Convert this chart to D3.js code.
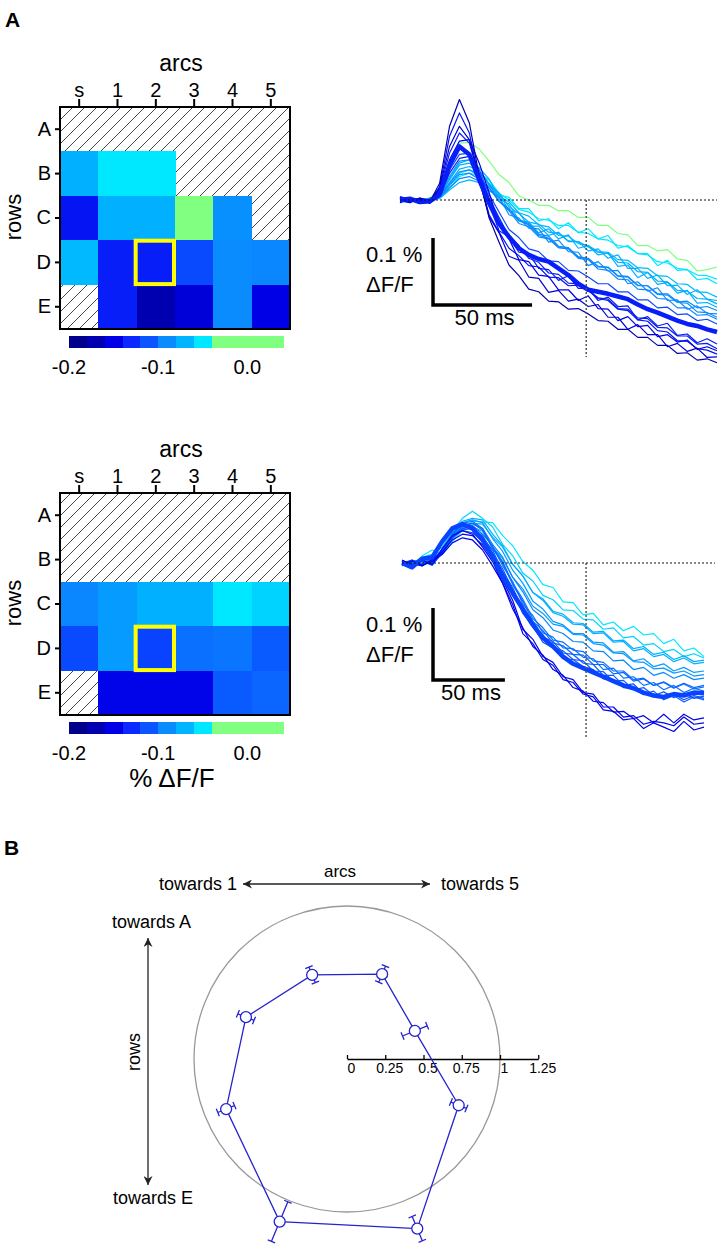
<!DOCTYPE html>
<html>
<head>
<meta charset="utf-8">
<script src="https://cdn.jsdelivr.net/npm/d3@7"></script>
<style>
  body { margin: 0; background: #fff; }
  svg { display: block; font-family: "Liberation Sans", Arial, sans-serif; }
</style>
</head>
<body>
<svg class="mainSvg"></svg>
<script>
(function () {
  // ===========================================================================
  //     data area
  // ===========================================================================
  const arcs = ['s', '1', '2', '3', '4', '5'];
  const rows = ['A', 'B', 'C', 'D', 'E'];

  // % dF/F per cell, null = not recorded (hatched)
  const mapTop = [
    [null, null, null, null, null, null],
    [-0.072, -0.05, -0.05, null, null, null],
    [-0.14, -0.072, -0.072, -0.03, -0.088, null],
    [-0.068, -0.135, -0.135, -0.115, -0.09, -0.092],
    [null, -0.135, -0.17, -0.155, -0.09, -0.15],
  ];
  const mapBottom = [
    [null, null, null, null, null, null],
    [null, null, null, null, null, null],
    [-0.092, -0.082, -0.072, -0.072, -0.05, -0.058],
    [-0.115, -0.082, -0.118, -0.1, -0.098, -0.108],
    [null, -0.148, -0.148, -0.148, -0.108, -0.104],
  ];
  const highlightCell = 'D2';

  const cbEdges = [-0.2, -0.18, -0.16, -0.14, -0.12, -0.10, -0.08, -0.06, -0.04, 0.04];
  const cbTicks = [-0.2, -0.1, 0.0];

  // traces, unit = 0.001 % dF/F, keyed by cell
  const tTop = [0, 5, 10, 15, 20, 25, 30, 35, 40, 45, 50, 55, 60, 65, 70, 75, 80,
    85, 90, 95, 100, 105, 110, 115, 120, 125, 130, 135, 140, 145, 150, 155, 160];
  const tracesTop = {
    Bs: [-3, 2, -4, 1, 6, 30, 52, 55, 42, 22, 10, -16, -19, -39, -39, -53, -48, -62, -62, -76, -73, -87, -82, -102, -102, -117, -112, -128, -127, -141, -134, -148, -150],
    B1: [2, -3, 0, -2, 4, 22, 40, 45, 40, 30, 10, 0, -14, -18, -28, -30, -38, -38, -48, -50, -58, -60, -68, -70, -80, -82, -92, -94, -102, -104, -112, -113, -118],
    B2: [-2, 1, -3, 2, 3, 18, 35, 40, 36, 30, 7, 4, -13, -13, -31, -28, -43, -34, -49, -43, -58, -53, -72, -68, -80, -80, -98, -90, -105, -104, -119, -117, -125],
    Cs: [4, -2, 3, -5, 20, 95, 130, 100, 30, -22, -48, -72, -83, -98, -100, -115, -116, -128, -127, -135, -147, -150, -163, -165, -179, -181, -195, -197, -210, -211, -222, -224, -230],
    C1: [0, 3, -2, -4, 5, 32, 55, 60, 48, 31, 2, -6, -30, -33, -49, -43, -58, -52, -72, -68, -82, -79, -99, -97, -116, -108, -126, -123, -139, -135, -154, -153, -160],
    C2: [-4, 0, 2, -1, 6, 26, 46, 50, 44, 24, 10, -10, -20, -33, -36, -48, -50, -61, -62, -70, -78, -80, -93, -94, -107, -108, -121, -122, -135, -136, -147, -148, -155],
    C3: [-2, 2, -3, 3, 15, 55, 85, 86, 76, 58, 38, 26, 6, 0, -8, -8, -16, -16, -26, -26, -38, -38, -50, -52, -68, -68, -76, -74, -88, -90, -106, -104, -100],
    C4: [3, -1, -3, 2, 8, 35, 58, 60, 43, 24, -2, -16, -35, -40, -55, -58, -71, -72, -85, -88, -99, -100, -113, -114, -127, -128, -141, -142, -153, -154, -167, -168, -175],
    Ds: [-1, -4, 2, 0, 2, 15, 26, 30, 26, 22, 6, -3, -19, -24, -37, -40, -53, -54, -65, -68, -77, -78, -89, -90, -101, -102, -113, -114, -125, -126, -137, -138, -145],
    D1: [5, 1, -4, -2, 15, 70, 100, 85, 35, -6, -46, -55, -78, -80, -102, -104, -120, -113, -132, -132, -150, -145, -159, -158, -179, -174, -188, -184, -202, -200, -213, -207, -215],
    D2: [0, 2, -3, -2, 8, 52, 80, 68, 30, -5, -35, -55, -72, -82, -88, -92, -102, -112, -125, -134, -137, -140, -144, -148, -156, -163, -168, -174, -180, -185, -188, -193, -197],
    D3: [-3, 2, 0, -4, 10, 45, 68, 70, 45, 8, -18, -44, -56, -73, -77, -91, -92, -105, -106, -115, -125, -125, -137, -137, -149, -149, -161, -160, -171, -170, -180, -178, -185],
    D4: [2, -2, -1, 3, 5, 25, 42, 45, 36, 14, 5, -22, -27, -42, -43, -63, -60, -77, -78, -98, -92, -106, -105, -125, -122, -136, -131, -150, -149, -163, -158, -169, -170],
    D5: [-2, 3, -3, 1, 4, 18, 32, 35, 28, 18, -2, -13, -31, -37, -53, -57, -71, -73, -87, -89, -103, -105, -118, -119, -133, -134, -147, -148, -161, -161, -172, -171, -178],
    E1: [1, -3, 2, -5, 8, 40, 62, 65, 40, 3, -26, -54, -68, -87, -93, -109, -111, -124, -125, -135, -146, -148, -162, -163, -176, -177, -190, -191, -203, -203, -215, -214, -222],
    E2: [3, 0, -5, -3, 25, 110, 150, 115, 35, -27, -63, -97, -113, -133, -137, -151, -152, -163, -162, -170, -180, -181, -193, -193, -205, -205, -217, -217, -229, -228, -239, -237, -243],
    E3: [-4, 2, 1, -2, 18, 80, 110, 90, 30, -25, -49, -84, -90, -115, -117, -138, -135, -151, -148, -159, -156, -175, -175, -193, -186, -201, -201, -219, -214, -226, -221, -235, -234],
    E4: [4, -1, -2, 2, 5, 22, 38, 40, 31, 19, -2, -13, -31, -35, -51, -54, -69, -71, -85, -87, -100, -101, -114, -115, -128, -128, -140, -140, -152, -151, -161, -159, -165],
    E5: [-1, -4, 3, 0, 12, 60, 88, 90, 55, 11, -38, -58, -89, -92, -112, -114, -134, -134, -150, -143, -162, -163, -180, -174, -189, -187, -204, -201, -212, -209, -223, -219, -225],
  };

  const tBottom = [0, 7, 14, 21, 28, 35, 42, 49, 56, 63, 70, 77, 84, 91, 98, 105,
    112, 119, 126, 133, 140, 147, 154, 161, 168, 175, 182, 189, 196, 203, 210];
  const tracesBottom = {
    Cs: [2, -2, 4, 0, 16, 38, 52, 55, 48, 26, 8, -20, -40, -65, -76, -93, -98, -109, -110, -122, -123, -136, -135, -148, -145, -156, -152, -160, -155, -162, -160],
    C1: [-2, 4, -1, 5, 18, 40, 56, 60, 56, 34, 16, -10, -28, -53, -64, -81, -86, -98, -98, -110, -111, -124, -123, -136, -133, -144, -140, -150, -145, -152, -150],
    C2: [1, -3, 6, 2, 20, 42, 58, 62, 60, 40, 24, -2, -18, -41, -52, -69, -74, -85, -86, -98, -97, -110, -109, -122, -119, -130, -127, -137, -132, -140, -138],
    C3: [-3, 0, 3, -2, 14, 36, 50, 55, 54, 36, 22, -2, -18, -41, -50, -67, -71, -83, -84, -96, -95, -108, -107, -119, -116, -127, -124, -134, -129, -137, -135],
    C4: [2, -4, 10, 18, 12, 30, 45, 58, 57, 56, 38, 24, 2, -10, -30, -34, -54, -55, -72, -70, -86, -82, -94, -88, -100, -98, -112, -106, -122, -118, -130],
    C5: [3, -2, 8, 12, 22, 44, 62, 72, 62, 50, 26, 10, -14, -25, -45, -51, -65, -66, -78, -79, -92, -90, -104, -102, -114, -112, -123, -120, -130, -126, -132],
    Ds: [0, 4, -3, 3, 18, 36, 45, 42, 30, 12, -16, -38, -70, -88, -110, -118, -133, -134, -144, -148, -161, -162, -173, -174, -183, -182, -188, -182, -190, -184, -188],
    D1: [-3, 2, 5, -2, 14, 34, 48, 50, 44, 22, 6, -20, -36, -60, -70, -85, -88, -99, -100, -112, -114, -125, -126, -137, -138, -147, -146, -153, -150, -157, -155],
    D2: [0, -6, 6, 8, 30, 48, 54, 48, 32, 8, -18, -42, -64, -86, -104, -116, -130, -140, -146, -152, -158, -164, -170, -174, -180, -184, -186, -182, -184, -180, -181],
    D3: [2, -3, 0, 6, 16, 40, 55, 58, 48, 22, 2, -28, -50, -77, -90, -107, -110, -121, -123, -136, -138, -150, -150, -162, -160, -170, -166, -174, -168, -175, -172],
    D4: [-4, 1, -2, 3, 12, 36, 50, 52, 40, 24, -4, -26, -57, -73, -97, -103, -118, -119, -131, -133, -148, -146, -160, -158, -170, -166, -176, -170, -180, -174, -178],
    D5: [1, -2, 3, -3, 14, 34, 46, 48, 38, 14, -8, -38, -60, -87, -100, -117, -122, -134, -136, -150, -151, -164, -163, -176, -173, -184, -179, -187, -181, -188, -185],
    E1: [-2, 3, -4, 5, 15, 32, 40, 38, 25, 6, -24, -52, -92, -106, -130, -138, -158, -162, -180, -182, -200, -200, -214, -212, -224, -220, -222, -226, -214, -224, -222],
    E2: [3, -5, 4, -2, 20, 38, 45, 40, 22, 2, -28, -58, -98, -112, -134, -142, -162, -166, -182, -186, -204, -206, -218, -216, -230, -222, -228, -234, -220, -232, -228],
    E3: [4, -2, -3, 2, 12, 28, 35, 32, 18, -4, -28, -64, -90, -116, -128, -148, -156, -173, -178, -192, -194, -207, -206, -216, -212, -222, -210, -222, -210, -218, -215],
    E4: [3, -1, -4, 4, 15, 35, 48, 50, 36, 18, -12, -34, -65, -81, -103, -109, -125, -127, -139, -141, -156, -156, -170, -168, -182, -178, -190, -184, -193, -186, -190],
    E5: [-1, 3, 2, -3, 17, 40, 53, 55, 46, 20, 0, -30, -53, -81, -94, -111, -115, -127, -128, -141, -141, -154, -152, -164, -161, -170, -165, -173, -167, -173, -170],
  };
  const markTop = 94; // ms, dotted line
  const markBottom = 128;
  const barMs = 50;
  const barPct = 0.1;

  // panel B: direction (deg), normalised amplitude, error
  const dirAngles = [22.5, 67.5, 112.5, 157.5, 202.5, 247.5, 292.5, 337.5];
  const dirAmp = [0.48, 0.60, 0.595, 0.715, 0.855, 1.15, 1.20, 0.79];
  const dirErr = [0.087, 0.057, 0.055, 0.057, 0.059, 0.14, 0.086, 0.055];
  const radTicks = [0, 0.25, 0.5, 0.75, 1, 1.25];

  // jet-like palette of the colour bar
  const jetStops = [-0.19, -0.17, -0.15, -0.13, -0.11, -0.09, -0.07, -0.05, -0.03];
  const jetColors = ['#00008a', '#0000b0', '#0000e6', '#0a28ff', '#0a55ff', '#0a8cff', '#00b4ff', '#00e8ff', '#80ff80'];

  // ===========================================================================
  //      procedure
  // ===========================================================================
  const W = 720;
  const H = 1249;
  const font = '"Liberation Sans", Arial, sans-serif';
  const color = d3.scaleLinear().domain(jetStops).range(jetColors).clamp(true);

  const svg = d3.select('.mainSvg')
    .attr('width', W)
    .attr('height', H);
  const defs = svg.append('defs');

  const pat = defs.append('pattern')
    .attr('id', 'hatch')
    .attr('patternUnits', 'userSpaceOnUse')
    .attr('width', 12)
    .attr('height', 12);
  pat.append('rect').attr('width', 12).attr('height', 12).attr('fill', '#fff');
  pat.append('path')
    .attr('d', 'M-3,3 L3,-3 M0,12 L12,0 M9,15 L15,9')
    .attr('stroke', '#333')
    .attr('stroke-width', 0.9);

  defs.append('marker')
    .attr('id', 'arrowHead')
    .attr('viewBox', '0 0 10 10')
    .attr('refX', 10)
    .attr('refY', 5)
    .attr('markerWidth', 11)
    .attr('markerHeight', 9)
    .attr('markerUnits', 'userSpaceOnUse')
    .attr('orient', 'auto-start-reverse')
    .append('path')
    .attr('d', 'M0,0 L10,5 L0,10 L3,5 Z')
    .attr('fill', '#222');

  function cellValue(map, key) {
    return map[rows.indexOf(key[0])][arcs.indexOf(key.slice(1))];
  }

  // panel letter A
  svg.append('text')
    .attr('x', 5).attr('y', 27)
    .attr('font-size', 21).attr('font-weight', 'bold')
    .text('A');

  // ===========================================================================
  //      draw heatmaps
  // ===========================================================================
  function drawMap(map, y0, showUnits) {
    const g = svg.append('g');
    const x = d3.scaleBand().domain(arcs).range([60, 290]);
    const y = d3.scaleBand().domain(rows).range([y0, y0 + 222]);

    g.append('rect')
      .attr('x', 60).attr('y', y0)
      .attr('width', 230).attr('height', 222)
      .attr('fill', 'url(#hatch)');

    const cells = [];
    map.forEach(function (r, i) {
      r.forEach(function (v, j) {
        if (v !== null) cells.push({ row: rows[i], arc: arcs[j], v });
      });
    });
    g.selectAll('rect.cell')
      .data(cells)
      .enter()
      .append('rect')
      .attr('class', 'cell')
      .attr('x', d => x(d.arc))
      .attr('y', d => y(d.row))
      .attr('width', x.bandwidth() + 0.5)
      .attr('height', y.bandwidth() + 0.5)
      .attr('fill', d => color(d.v))
      .attr('shape-rendering', 'crispEdges');

    g.append('rect')
      .attr('x', x(highlightCell.slice(1)) - 1)
      .attr('y', y(highlightCell[0]) + 0.5)
      .attr('width', x.bandwidth())
      .attr('height', y.bandwidth() - 1)
      .attr('fill', 'none')
      .attr('stroke', '#ffff00')
      .attr('stroke-width', 4);

    g.append('rect')
      .attr('x', 60).attr('y', y0)
      .attr('width', 230).attr('height', 222)
      .attr('fill', 'none')
      .attr('stroke', '#000')
      .attr('stroke-width', 2);

    const ax = g.append('g')
      .attr('transform', `translate(0,${y0})`)
      .call(d3.axisTop(x).tickSizeInner(8).tickSizeOuter(0).tickPadding(2));
    const ay = g.append('g')
      .attr('transform', 'translate(60,0)')
      .call(d3.axisLeft(y).tickSizeInner(5).tickSizeOuter(0).tickPadding(4));
    [ax, ay].forEach(function (a) {
      a.attr('font-family', font).attr('font-size', 20);
      a.select('.domain').remove();
      a.selectAll('line').attr('stroke', '#000').attr('stroke-width', 2);
      a.selectAll('text').attr('fill', '#000');
    });

    g.append('text')
      .attr('x', 181).attr('y', y0 - 36)
      .attr('text-anchor', 'middle')
      .attr('font-size', 23)
      .text('arcs');
    g.append('text')
      .attr('transform', `translate(21,${y0 + 110}) rotate(-90)`)
      .attr('text-anchor', 'middle')
      .attr('font-size', 22)
      .text('rows');

    // colour bar
    const cb = d3.scaleLinear().domain([-0.2, 0.04]).range([69, 283]);
    const cbTop = y0 + 222 + 7;
    const bins = cbEdges.slice(0, -1).map((e, i) => ({ lo: e, hi: cbEdges[i + 1] }));
    g.selectAll('rect.bin')
      .data(bins)
      .enter()
      .append('rect')
      .attr('class', 'bin')
      .attr('x', d => cb(d.lo))
      .attr('y', cbTop)
      .attr('width', d => cb(d.hi) - cb(d.lo) + 0.5)
      .attr('height', 12)
      .attr('fill', d => color((d.lo + d.hi) / 2))
      .attr('shape-rendering', 'crispEdges');
    g.selectAll('text.cbt')
      .data(cbTicks)
      .enter()
      .append('text')
      .attr('class', 'cbt')
      .attr('x', d => cb(d))
      .attr('y', cbTop + 38)
      .attr('text-anchor', 'middle')
      .attr('font-size', 20)
      .text(d => d.toFixed(1));
    if (showUnits) {
      g.append('text')
        .attr('x', 172).attr('y', cbTop + 65)
        .attr('text-anchor', 'middle')
        .attr('font-size', 26)
        .text('% \u0394F/F');
    }
  }

  drawMap(mapTop, 107, false);
  drawMap(mapBottom, 493, true);

  // ===========================================================================
  //      draw traces
  // ===========================================================================
  function drawTraces(cfg) {
    const g = svg.append('g');
    const x = d3.scaleLinear().domain(cfg.tDomain).range(cfg.xRange);
    const y = d3.scaleLinear().domain([0, barPct]).range([cfg.base, cfg.base - cfg.px]);
    const line = d3.line()
      .x((d, i) => x(cfg.t[i]))
      .y(d => y(d / 1000));

    const keys = Object.keys(cfg.traces)
      .filter(k => k !== highlightCell)
      .sort((a, b) => cellValue(cfg.map, b) - cellValue(cfg.map, a));

    g.selectAll('path.trace')
      .data(keys)
      .enter()
      .append('path')
      .attr('class', 'trace')
      .attr('d', k => line(cfg.traces[k]))
      .attr('fill', 'none')
      .attr('stroke', k => color(cellValue(cfg.map, k)))
      .attr('stroke-width', 1.2)
      .attr('stroke-linejoin', 'round');

    g.append('path')
      .attr('d', line(cfg.traces[highlightCell]))
      .attr('fill', 'none')
      .attr('stroke', color(cellValue(cfg.map, highlightCell)))
      .attr('stroke-width', 4.5)
      .attr('stroke-linejoin', 'round');

    // baseline and time marker
    g.append('line')
      .attr('x1', x(0)).attr('x2', cfg.dashEnd)
      .attr('y1', y(0)).attr('y2', y(0))
      .attr('stroke', '#111')
      .attr('stroke-width', 1)
      .attr('stroke-dasharray', '2,2');
    g.append('line')
      .attr('x1', x(cfg.mark)).attr('x2', x(cfg.mark))
      .attr('y1', y(0)).attr('y2', cfg.markEnd)
      .attr('stroke', '#555')
      .attr('stroke-width', 1.5)
      .attr('stroke-dasharray', '2,2');

    // scale bar
    const bx = 433;
    const by = cfg.barY;
    const bw = x(barMs) - x(0);
    const bh = y(0) - y(barPct);
    g.append('path')
      .attr('d', `M${bx},${by - bh} L${bx},${by} L${bx + bw},${by}`)
      .attr('fill', 'none')
      .attr('stroke', '#000')
      .attr('stroke-width', 3.5);
    g.append('text')
      .attr('x', 366).attr('y', by - bh + 24)
      .attr('font-size', 22)
      .text('0.1 %');
    g.append('text')
      .attr('x', 366).attr('y', by - bh + 54)
      .attr('font-size', 22)
      .text('\u0394F/F');
    g.append('text')
      .attr('x', bx + bw / 2 + 2).attr('y', by + 20)
      .attr('text-anchor', 'middle')
      .attr('font-size', 22)
      .text('50 ms');
  }

  drawTraces({
    t: tTop, traces: tracesTop, map: mapTop,
    tDomain: [0, 160], xRange: [400, 717],
    base: 200, px: 67, dashEnd: 717,
    mark: markTop, markEnd: 357, barY: 305,
  });
  drawTraces({
    t: tBottom, traces: tracesBottom, map: mapBottom,
    tDomain: [0, 210], xRange: [402, 704],
    base: 563, px: 72, dashEnd: 715,
    mark: markBottom, markEnd: 738, barY: 680,
  });

  // ===========================================================================
  //      panel B
  // ===========================================================================
  const gB = svg.append('g').attr('font-size', 18);
  gB.append('text')
    .attr('x', 4).attr('y', 855)
    .attr('font-size', 21).attr('font-weight', 'bold')
    .text('B');

  gB.append('text').attr('x', 340).attr('y', 877).attr('text-anchor', 'middle')
    .attr('font-size', 17).text('arcs');
  gB.append('line')
    .attr('x1', 243).attr('x2', 430).attr('y1', 884).attr('y2', 884)
    .attr('stroke', '#222').attr('stroke-width', 1.3)
    .attr('marker-start', 'url(#arrowHead)')
    .attr('marker-end', 'url(#arrowHead)');
  gB.append('text').attr('x', 237).attr('y', 890).attr('text-anchor', 'end').text('towards 1');
  gB.append('text').attr('x', 441).attr('y', 890).text('towards 5');

  gB.append('text').attr('x', 112).attr('y', 928).text('towards A');
  gB.append('line')
    .attr('x1', 148).attr('x2', 148).attr('y1', 938).attr('y2', 1185)
    .attr('stroke', '#222').attr('stroke-width', 1.3)
    .attr('marker-start', 'url(#arrowHead)')
    .attr('marker-end', 'url(#arrowHead)');
  gB.append('text').attr('x', 113).attr('y', 1204).text('towards E');
  gB.append('text')
    .attr('transform', 'translate(140,1052) rotate(-90)')
    .attr('text-anchor', 'middle')
    .text('rows');

  const cx = 347;
  const cy = 1059;
  const r = d3.scaleLinear().domain([0, 1]).range([0, 153]);

  gB.append('circle')
    .attr('cx', cx).attr('cy', cy).attr('r', r(1))
    .attr('fill', 'none')
    .attr('stroke', '#999')
    .attr('stroke-width', 1.3);

  const rx = d3.scaleLinear().domain([0, 1.25]).range([cx, cx + r(1.25)]);
  const rAxis = gB.append('g')
    .attr('transform', `translate(0,${cy})`)
    .call(d3.axisBottom(rx).tickValues(radTicks).tickSizeInner(-4).tickSizeOuter(0)
      .tickPadding(4).tickFormat(d => String(d)));
  rAxis.attr('font-family', font).attr('font-size', 14);
  rAxis.select('.domain').attr('stroke', '#000').attr('stroke-width', 1.5);
  rAxis.selectAll('line').attr('stroke', '#000').attr('stroke-width', 1.3);
  rAxis.selectAll('text').attr('fill', '#000').attr('dx', 4);

  const pts = dirAngles.map(function (a, i) {
    const th = a * Math.PI / 180;
    return { th, amp: dirAmp[i], err: dirErr[i] };
  });
  function px(th, v) { return [cx + r(v) * Math.cos(th), cy - r(v) * Math.sin(th)]; }

  const blue = '#2424cc';
  gB.append('path')
    .attr('d', d3.line()(pts.map(p => px(p.th, p.amp))) + 'Z')
    .attr('fill', 'none')
    .attr('stroke', blue)
    .attr('stroke-width', 1.3);

  pts.forEach(function (p) {
    const a = px(p.th, p.amp - p.err);
    const b = px(p.th, p.amp + p.err);
    const tx = Math.sin(p.th) * 4;
    const ty = Math.cos(p.th) * 4;
    gB.append('path')
      .attr('d', `M${a[0]},${a[1]} L${b[0]},${b[1]}`
        + ` M${a[0] - tx},${a[1] - ty} L${a[0] + tx},${a[1] + ty}`
        + ` M${b[0] - tx},${b[1] - ty} L${b[0] + tx},${b[1] + ty}`)
      .attr('stroke', blue)
      .attr('stroke-width', 1.3)
      .attr('fill', 'none');
  });

  gB.selectAll('circle.pt')
    .data(pts)
    .enter()
    .append('circle')
    .attr('class', 'pt')
    .attr('cx', p => px(p.th, p.amp)[0])
    .attr('cy', p => px(p.th, p.amp)[1])
    .attr('r', 5.5)
    .attr('fill', '#fff')
    .attr('stroke', blue)
    .attr('stroke-width', 1.3);
})();
</script>
</body>
</html>
